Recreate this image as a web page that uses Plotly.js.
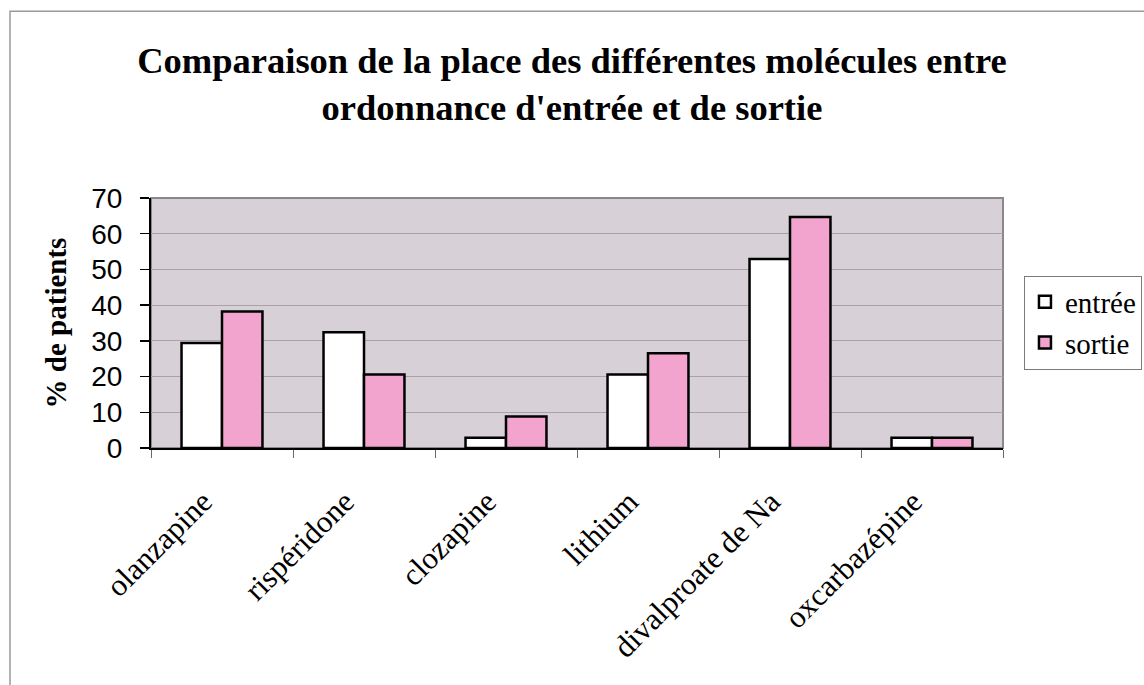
<!DOCTYPE html>
<html>
<head>
<meta charset="utf-8">
<script src="https://cdn.plot.ly/plotly-3.0.1.min.js"></script>
<style>
  html, body { margin: 0; padding: 0; background: #ffffff; }
  #chart { width: 1144px; height: 685px; }
</style>
</head>
<body>
<div id="chart"></div>
<script>
// Data
var categories = ["olanzapine", "rispéridone", "clozapine", "lithium", "divalproate de Na", "oxcarbazépine"];
var entreeValues = [29.4, 32.4, 2.9, 20.6, 52.9, 2.9];
var sortieValues = [38.2, 20.6, 8.8, 26.5, 64.7, 2.9];
var seriesNames = ["entrée", "sortie"];
var yTicks = [0, 10, 20, 30, 40, 50, 60, 70];

var serif = "Liberation Serif";
var sans = "Liberation Sans";

var traces = [
  {
    type: "bar",
    name: seriesNames[0],
    x: categories,
    y: entreeValues,
    marker: { color: "#ffffff", line: { color: "#000000", width: 2.5 } },
    hoverinfo: "x+y"
  },
  {
    type: "bar",
    name: seriesNames[1],
    x: categories,
    y: sortieValues,
    marker: { color: "#f2a4cf", line: { color: "#000000", width: 2.5 } },
    hoverinfo: "x+y"
  }
];

var layout = {
  width: 1144,
  height: 685,
  paper_bgcolor: "#ffffff",
  plot_bgcolor: "#d7d1d7",
  margin: { l: 151, r: 141, t: 198, b: 237, autoexpand: false },
  barmode: "group",
  bargap: 0.43,
  bargroupgap: 0,
  title: {
    text: "Comparaison de la place des différentes molécules entre<br>ordonnance d'entrée et de sortie",
    font: { family: serif, size: 36.5, color: "#000000", weight: 700 },
    x: 0.5,
    xanchor: "center",
    xref: "container",
    y: 1 - 73 / 685,
    yanchor: "top",
    yref: "container"
  },
  xaxis: {
    type: "category",
    tickangle: -45,
    tickfont: { family: serif, size: 31, color: "#000000" },
    ticks: "outside",
    tickson: "boundaries",
    ticklen: 8,
    tickcolor: "#6a6a6a",
    tickwidth: 1,
    ticklabelstandoff: 21,
    ticklabelshift: -19,
    showline: true,
    linecolor: "#000000",
    linewidth: 2,
    showgrid: false,
    automargin: false,
    zeroline: false
  },
  yaxis: {
    range: [0, 70],
    tickvals: yTicks,
    ticktext: yTicks.map(String),
    tickfont: { family: sans, size: 28, color: "#000000" },
    ticks: "outside",
    ticklen: 9,
    tickcolor: "#000000",
    tickwidth: 1.5,
    ticklabelstandoff: 12,
    showline: true,
    linecolor: "#000000",
    linewidth: 2,
    showgrid: true,
    gridcolor: "#a8a2a8",
    gridwidth: 1.2,
    zeroline: false,
    automargin: false,
    title: {
      text: "% de patients",
      font: { family: serif, size: 29, color: "#000000", weight: 700 },
      standoff: 16
    }
  },
  legend: {
    x: 1.0246,
    xanchor: "left",
    y: 0.69,
    yanchor: "top",
    bgcolor: "#ffffff",
    bordercolor: "#7a7a7a",
    borderwidth: 1,
    font: { family: serif, size: 29, color: "#000000" },
    tracegroupgap: 0,
    itemwidth: 30
  },
  shapes: [
    {
      type: "rect",
      xref: "paper", yref: "paper",
      x0: 0, x1: 1, y0: 0, y1: 1,
      line: { color: "#8c878c", width: 2 },
      fillcolor: "rgba(0,0,0,0)",
      layer: "below"
    },
    {
      type: "rect",
      xref: "paper", yref: "paper",
      x0: -0.1655, x1: 2, y0: -2, y1: 1.7466,
      line: { color: "#9a9a9a", width: 1.5 },
      fillcolor: "rgba(0,0,0,0)",
      layer: "below"
    }
  ],
  showlegend: true
};

Plotly.newPlot("chart", traces, layout, { displayModeBar: false, staticPlot: true });
</script>
</body>
</html>
